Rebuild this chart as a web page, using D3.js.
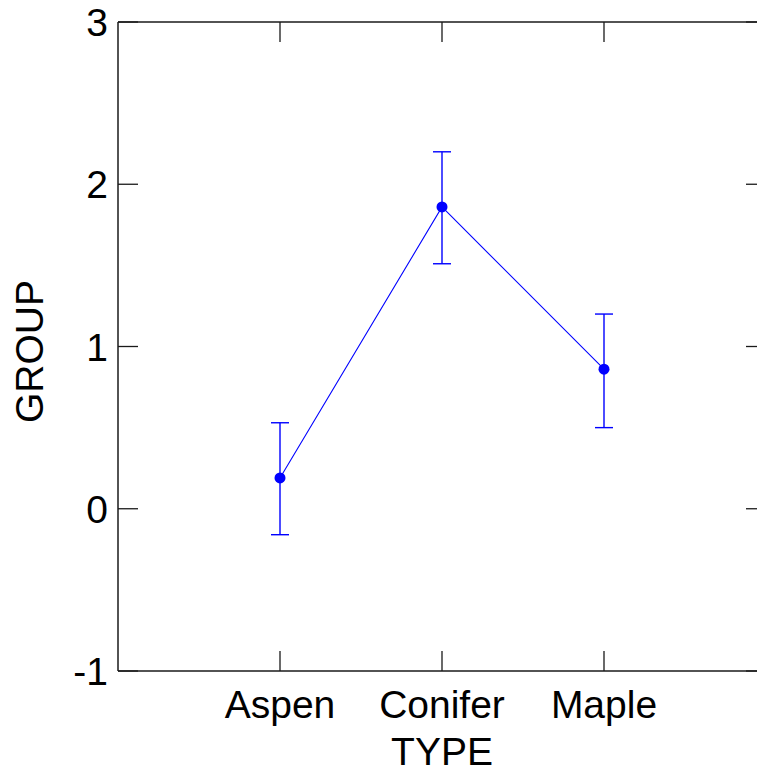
<!DOCTYPE html>
<html>
<head>
<meta charset="utf-8">
<script src="https://cdn.jsdelivr.net/npm/d3@7"></script>
<style>
  body { margin: 0; background: #fff; }
  svg { display: block; font-family: 'Liberation Sans', Arial, sans-serif; }
</style>
</head>
<body>
<svg id="chart" width="757" height="774"></svg>
<script>
const categories = ['Aspen', 'Conifer', 'Maple']
const means = [0.19, 1.86, 0.86]
const upper = [0.53, 2.20, 1.20]
const lower = [-0.16, 1.51, 0.50]
const yTicks = [-1, 0, 1, 2, 3]

const svg = d3.select('#chart')
const plotLeft = 118, plotRight = 766, plotTop = 22, plotBottom = 671
const blue = '#0000ff'
const axisColor = '#1a1a1a'
const fontSize = '39px'

const x = d3.scaleLinear().domain([0, categories.length + 1]).range([plotLeft, plotRight])
const y = d3.scaleLinear().domain([-1, 3]).range([plotBottom, plotTop])

// frame (right edge runs off the page)
const frame = svg.append('g').attr('stroke', axisColor).attr('stroke-width', 1.5)
frame.append('line').attr('x1', plotLeft).attr('x2', plotRight).attr('y1', plotTop).attr('y2', plotTop)
frame.append('line').attr('x1', plotLeft).attr('x2', plotRight).attr('y1', plotBottom).attr('y2', plotBottom)
frame.append('line').attr('x1', plotLeft).attr('x2', plotLeft).attr('y1', plotTop).attr('y2', plotBottom)
frame.append('line').attr('x1', plotRight).attr('x2', plotRight).attr('y1', plotTop).attr('y2', plotBottom)

// inward ticks
const tickLen = 20
const ticks = svg.append('g').attr('stroke', axisColor).attr('stroke-width', 1.3)
yTicks.forEach(t => {
  ticks.append('line').attr('x1', plotLeft).attr('x2', plotLeft + tickLen).attr('y1', y(t)).attr('y2', y(t))
  ticks.append('line').attr('x1', plotRight - tickLen).attr('x2', plotRight).attr('y1', y(t)).attr('y2', y(t))
  svg.append('text').attr('x', plotLeft - 10).attr('y', y(t) + 14)
    .attr('text-anchor', 'end').style('font-size', fontSize).text(t)
})

categories.forEach((c, i) => {
  const cx = x(i + 1)
  ticks.append('line').attr('x1', cx).attr('x2', cx).attr('y1', plotBottom - tickLen).attr('y2', plotBottom)
  ticks.append('line').attr('x1', cx).attr('x2', cx).attr('y1', plotTop).attr('y2', plotTop + tickLen)
  svg.append('text').attr('x', cx).attr('y', 718)
    .attr('text-anchor', 'middle').style('font-size', fontSize).text(c)
})

// axis titles
svg.append('text').attr('x', x(2)).attr('y', 765)
  .attr('text-anchor', 'middle').style('font-size', fontSize).text('TYPE')
svg.append('text').attr('transform', `translate(43, ${(plotTop + plotBottom) / 2 + 5}) rotate(-90)`)
  .attr('text-anchor', 'middle').style('font-size', fontSize).text('GROUP')

// connecting line
const line = d3.line().x((d, i) => x(i + 1)).y(d => y(d))
svg.append('path').datum(means).attr('d', line)
  .attr('fill', 'none').attr('stroke', blue).attr('stroke-width', 1.1)

// error bars
const cap = 9
means.forEach((m, i) => {
  const cx = x(i + 1)
  const g = svg.append('g').attr('stroke', blue).attr('stroke-width', 1.4)
  g.append('line').attr('x1', cx).attr('x2', cx).attr('y1', y(upper[i])).attr('y2', y(lower[i]))
  g.append('line').attr('x1', cx - cap).attr('x2', cx + cap).attr('y1', y(upper[i])).attr('y2', y(upper[i]))
  g.append('line').attr('x1', cx - cap).attr('x2', cx + cap).attr('y1', y(lower[i])).attr('y2', y(lower[i]))
})

svg.selectAll('circle.pt').data(means).enter()
  .append('circle').attr('class', 'pt')
  .attr('cx', (d, i) => x(i + 1)).attr('cy', d => y(d)).attr('r', 5.5)
  .attr('fill', blue)
</script>
</body>
</html>
